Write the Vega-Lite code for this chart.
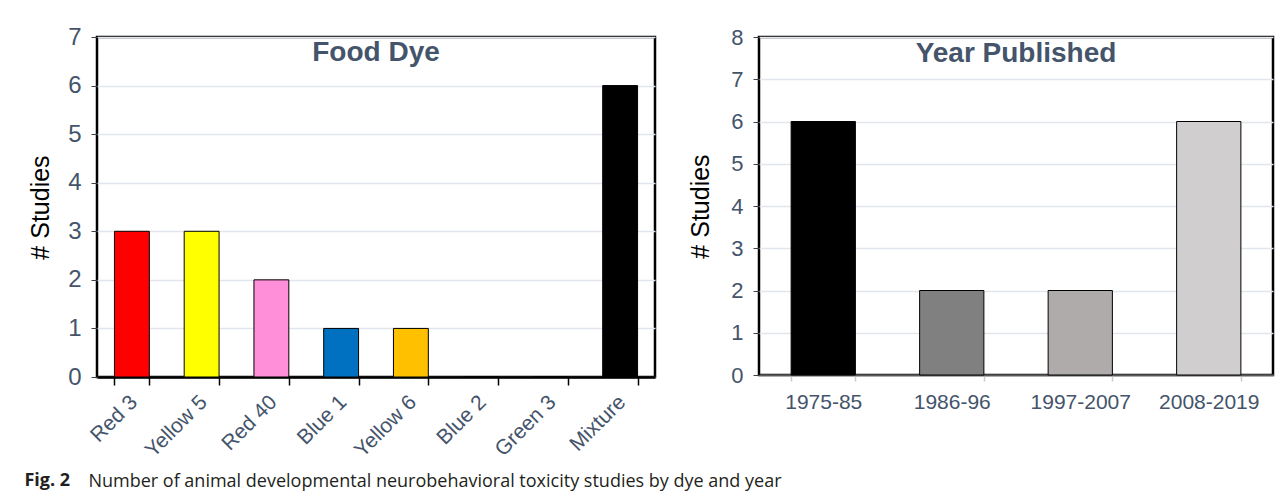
{
  "$schema": "https://vega.github.io/schema/vega-lite/v6.json",
  "background": "white",
  "padding": {"left": 24, "top": 23, "right": 8, "bottom": 2},
  "config": {
    "font": "Liberation Sans",
    "view": {"stroke": "black", "strokeWidth": 2.5},
    "axis": {"gridColor": "#e1e6ee", "gridWidth": 1.5, "labelColor": "#44546a", "titleColor": "#000000", "titleFontWeight": "normal"}
  },
  "title": {"text": "Fig. 2", "orient": "bottom", "anchor": "start", "font": "Open Sans", "fontSize": 18, "fontWeight": "bold", "color": "#231f20", "offset": 4, "dy": -23, "dx": -3},
  "vconcat": [
    {
      "title": {"text": "Number of animal developmental neurobehavioral toxicity studies by dye and year", "orient": "bottom", "anchor": "start", "font": "Open Sans", "fontSize": 18, "fontWeight": "normal", "color": "#231f20", "dx": 61, "offset": 11},
      "spacing": 30,
      "resolve": {"scale": {"color": "independent"}},
      "hconcat": [
        {
          "width": 558,
          "height": 340,
          "title": {"text": "Food Dye", "font": "Liberation Sans", "fontSize": 28, "fontWeight": "bold", "color": "#44546a", "offset": -42},
          "data": {"values": [
            {"dye": "Red 3", "studies": 3},
            {"dye": "Yellow 5", "studies": 3},
            {"dye": "Red 40", "studies": 2},
            {"dye": "Blue 1", "studies": 1},
            {"dye": "Yellow 6", "studies": 1},
            {"dye": "Blue 2", "studies": 0},
            {"dye": "Green 3", "studies": 0},
            {"dye": "Mixture", "studies": 6}
          ]},
          "mark": {"type": "bar", "stroke": "black", "strokeWidth": 1},
          "encoding": {
            "x": {"field": "dye", "type": "nominal", "sort": null,
              "scale": {"paddingInner": 0.5, "paddingOuter": 0.25},
              "axis": {"title": null, "labelAngle": -45, "labelFontSize": 21, "labelPadding": 6, "labelOffset": -6, "tickBand": "extent", "tickSize": 8, "tickColor": "#000000", "tickWidth": 1.5, "domainColor": "#000000", "domainWidth": 2.5}},
            "y": {"field": "studies", "type": "quantitative",
              "scale": {"domain": [0, 7]},
              "axis": {"title": "# Studies", "titleFontSize": 25, "titlePadding": 14, "labelFontSize": 24, "labelPadding": 10, "tickCount": 7, "tickSize": 6, "tickColor": "#404040", "domain": false}},
            "color": {"field": "dye", "type": "nominal", "legend": null,
              "scale": {"domain": ["Red 3", "Yellow 5", "Red 40", "Blue 1", "Yellow 6", "Blue 2", "Green 3", "Mixture"],
                "range": ["#ff0000", "#ffff00", "#ff8fd9", "#0070c0", "#ffc000", "#0000ff", "#00b050", "#000000"]}}
          }
        },
        {
          "width": 514,
          "height": 338,
          "title": {"text": "Year Published", "font": "Liberation Sans", "fontSize": 28, "fontWeight": "bold", "color": "#44546a", "offset": -42},
          "data": {"values": [
            {"period": "1975-85", "studies": 6},
            {"period": "1986-96", "studies": 2},
            {"period": "1997-2007", "studies": 2},
            {"period": "2008-2019", "studies": 6}
          ]},
          "mark": {"type": "bar", "stroke": "black", "strokeWidth": 1},
          "encoding": {
            "x": {"field": "period", "type": "nominal", "sort": null,
              "scale": {"paddingInner": 0.5, "paddingOuter": 0.25},
              "axis": {"title": null, "labelAngle": 0, "labelFontSize": 21, "labelPadding": 10, "tickBand": "extent", "tickSize": 6, "tickColor": "#c8ccd2", "tickWidth": 1.5, "domainColor": "#595959", "domainWidth": 1.5}},
            "y": {"field": "studies", "type": "quantitative",
              "scale": {"domain": [0, 8]},
              "axis": {"title": "# Studies", "titleFontSize": 25, "titlePadding": 17, "labelFontSize": 22, "labelPadding": 10, "tickCount": 8, "tickSize": 6, "tickColor": "#404040", "domain": false}},
            "color": {"field": "period", "type": "nominal", "legend": null,
              "scale": {"domain": ["1975-85", "1986-96", "1997-2007", "2008-2019"],
                "range": ["#000000", "#808080", "#afabaa", "#d0cecf"]}}
          }
        }
      ]
    }
  ]
}
